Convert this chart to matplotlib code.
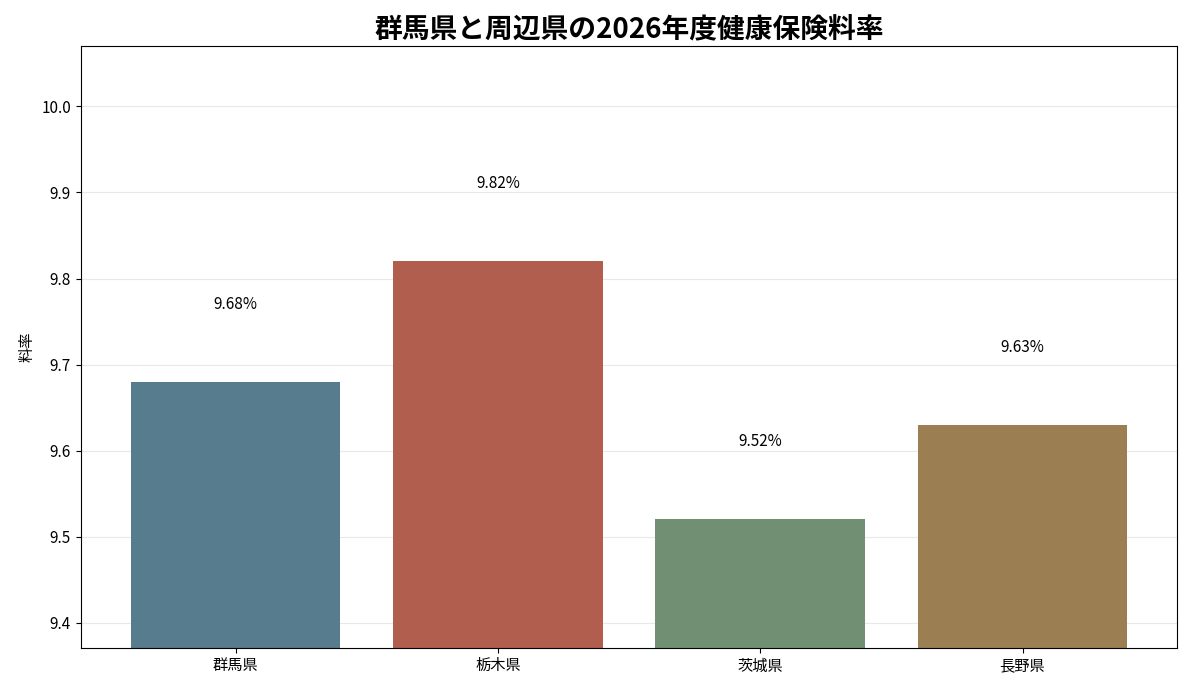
import matplotlib
matplotlib.use("Agg")
import matplotlib.pyplot as plt

plt.rcParams['font.family'] = ['Noto Sans CJK JP', 'DejaVu Sans']

categories = ["群馬県", "栃木県", "茨城県", "長野県"]
values = [9.68, 9.82, 9.52, 9.63]
colors = ["#577c8e", "#b25e4e", "#708f73", "#9b7f52"]

fig, ax = plt.subplots(figsize=(11.88, 6.89), dpi=100)
fig.subplots_adjust(left=0.068, right=0.991, top=0.933, bottom=0.06)
ax.bar(categories, values, color=colors, width=0.8, zorder=2)
for i, v in enumerate(values):
    ax.text(i, v + 0.09, f"{v:.2f}%", ha="center", va="center", fontsize=11)
ax.set_ylim(9.371, 10.07)
ax.set_yticks([9.4, 9.5, 9.6, 9.7, 9.8, 9.9, 10.0])
ax.yaxis.grid(True, color="#e8e8e8", linewidth=0.8, zorder=0)
ax.set_axisbelow(True)
ax.set_ylabel("料率", fontsize=11)
ax.tick_params(labelsize=11)
ax.set_title("群馬県と周辺県の2026年度健康保険料率", fontsize=20, fontweight="bold")
fig.savefig("out.png", dpi=100)
